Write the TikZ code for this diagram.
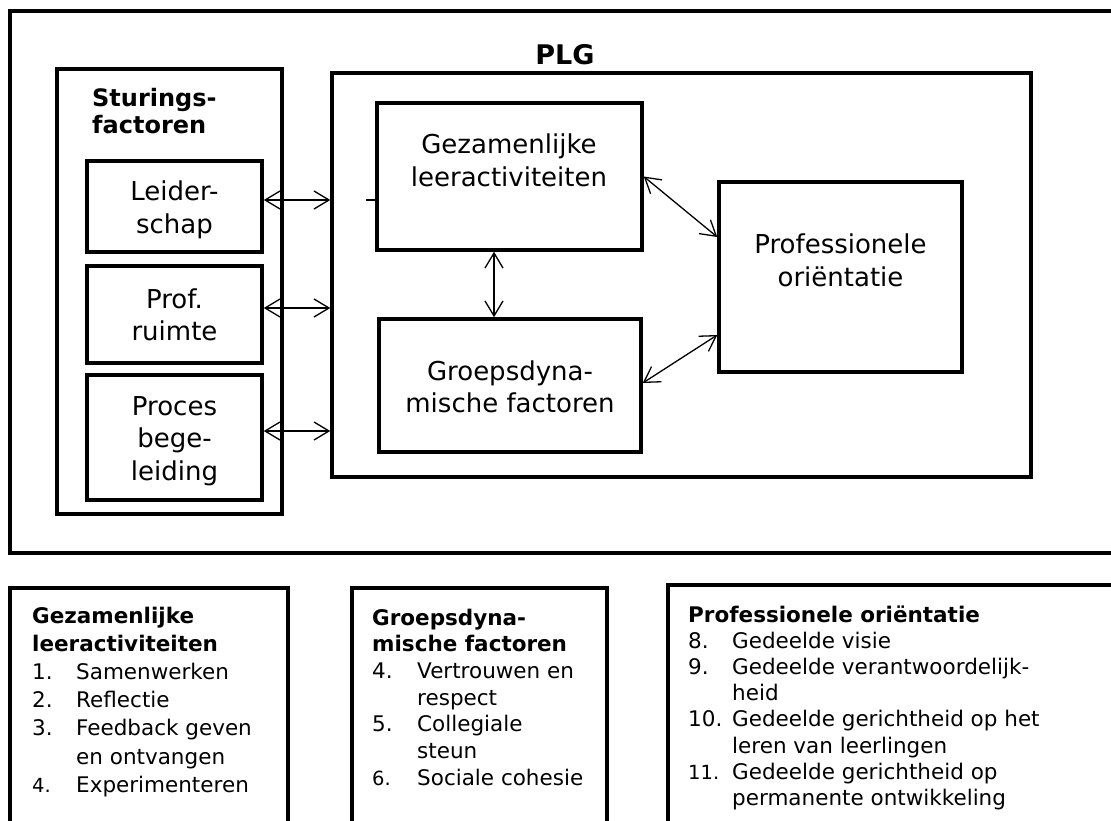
\documentclass[tikz,border=0pt]{standalone}
\usepackage{fontspec}
\setmainfont{DejaVu Sans}
\usetikzlibrary{arrows.meta}
\newcommand{\ctab}[1]{\begin{tabular}[t]{@{}c@{}}#1\end{tabular}}
\newcommand{\ltab}[1]{\begin{tabular}[t]{@{}l@{}}#1\end{tabular}}
\newcommand{\nm}[2]{\makebox[#1][l]{#2}}
\newcommand{\smn}[1]{{\fontsize{19.5}{20}\selectfont #1}}
\begin{document}
\begin{tikzpicture}[x=1pt,y=-1pt,
  box/.style={draw, line width=3.5pt, rectangle, inner sep=0pt},
  big/.style={inner sep=0pt, anchor=base, font=\fontsize{26}{32.5}\selectfont},
  lst/.style={inner sep=0pt, anchor=base west},
  arr/.style={line width=1.3pt, {Straight Barb[length=15pt,width=18pt]}-{Straight Barb[length=15pt,width=18pt]}}
]
\useasboundingbox (0,0) rectangle (1111,821);
\clip (0,0) rectangle (1111,821);
\fill[white] (0,0) rectangle (1111,821);

% boxes
\node[box, line width=4pt, minimum width=1125pt, minimum height=542pt] (outer) at (572.5,282) {};
\node[box, minimum width=225pt, minimum height=445pt] (stu) at (169.5,291.5) {};
\node[box, minimum width=175pt, minimum height=91pt] (lei) at (174.5,206.5) {};
\node[box, minimum width=175pt, minimum height=97pt] (pr) at (174.5,314.5) {};
\node[box, minimum width=175pt, minimum height=125pt] (pc) at (174.5,437.5) {};
\node[box, minimum width=699pt, minimum height=404pt] (plg) at (681.5,275) {};
\node[box, minimum width=265pt, minimum height=147pt] (gez) at (509.5,176.5) {};
\node[box, minimum width=262pt, minimum height=133pt] (grp) at (510,385.5) {};
\node[box, minimum width=243pt, minimum height=190pt] (po) at (840.5,277) {};
\node[box, minimum width=278pt, minimum height=312pt] (b1) at (149,744) {};
\node[box, minimum width=255pt, minimum height=312pt] (b2) at (479.5,744) {};
\node[box, minimum width=472pt, minimum height=315pt] (b3) at (904,742.5) {};

% titles and box texts
\node[inner sep=0pt, anchor=base, font=\bfseries\fontsize{27}{32}\selectfont] (plgt) at (565,65) {PLG};
\node[inner sep=0pt, anchor=base west, font=\bfseries\fontsize{24}{27}\selectfont] (stut) at (92,107) {\ltab{Sturings-\\factoren}};
\node[big] (leit) at (174.5,201) {\ctab{Leider-\\schap}};
\node[big] (prt) at (174.5,308) {\ctab{Prof.\\ruimte}};
\node[big] (pct) at (174.5,415) {\ctab{Proces\\bege-\\leiding}};
\node[big] (gezt) at (509,154) {\ctab{Gezamenlijke\\leeractiviteiten}};
\node[big] (grpt) at (510,380) {\ctab{Groepsdyna-\\mische factoren}};
\node[big] (pot) at (840.5,254) {\ctab{Professionele\\oriëntatie}};

% connectors
\coordinate (a1) at ([yshift=6.5pt]lei.east);
\coordinate (a2) at ([yshift=6.5pt]pr.east);
\coordinate (a3) at ([yshift=6.5pt]pc.east);
\draw[arr] (a1) -- (a1 -| plg.west);
\draw[arr] (a2) -- (a2 -| plg.west);
\draw[arr] (a3) -- (a3 -| plg.west);
\coordinate (v1) at ([xshift=-15.5pt]gez.south);
\draw[arr] (v1) -- (v1 |- grp.north);
\draw[arr] (gez.east) -- ([yshift=40pt]po.west);
\draw[arr] ([yshift=2.5pt]grp.east) -- ([yshift=-58pt]po.west);
\coordinate (tk) at ([yshift=-23.5pt]gez.west);
\draw[line width=1.3pt] (tk) -- ++(-9,0);

% legend lists
\node[lst, font=\fontsize{21.5}{28.2}\selectfont] (l1) at (32,623) {\ltab{%
\textbf{Gezamenlijke}\\
\textbf{leeractiviteiten}\\
\nm{44pt}{1.}Samenwerken\\
\nm{44pt}{2.}Reflectie\\
\nm{44pt}{3.}Feedback geven\\
\hspace*{44pt}en ontvangen\\
\nm{44pt}{\smn{4.}}Experimenteren}};
\node[lst, font=\fontsize{21.5}{26.7}\selectfont] (l2) at (372,625) {\ltab{%
\textbf{Groepsdyna-}\\
\textbf{mische factoren}\\
\nm{45pt}{4.}Vertrouwen en\\
\hspace*{45pt}respect\\
\nm{45pt}{5.}Collegiale\\
\hspace*{45pt}steun\\
\nm{45pt}{\smn{6.}}Sociale cohesie}};
\node[lst, font=\fontsize{21.5}{26.2}\selectfont] (l3) at (688,622) {\ltab{%
\textbf{Professionele oriëntatie}\\
\nm{44pt}{8.}Gedeelde visie\\
\nm{44pt}{9.}Gedeelde verantwoordelijk-\\
\hspace*{44pt}heid\\
\nm{44pt}{10.}Gedeelde gerichtheid op het\\
\hspace*{44pt}leren van leerlingen\\
\nm{44pt}{\smn{11.}}Gedeelde gerichtheid op\\
\hspace*{44pt}permanente ontwikkeling}};
\end{tikzpicture}
\end{document}
